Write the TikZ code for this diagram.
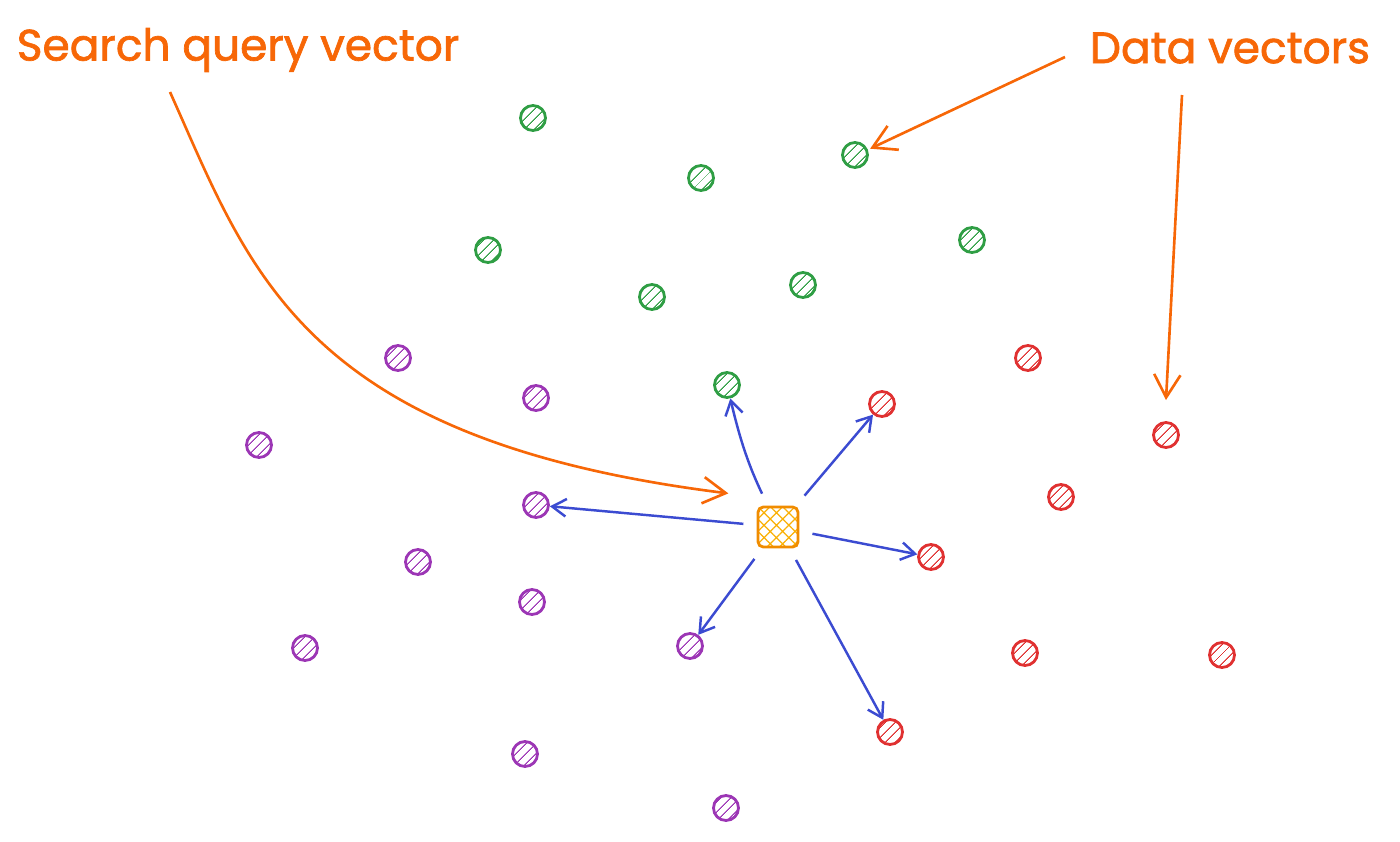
\documentclass[tikz,border=0pt]{standalone}
\usepackage{fontspec}
\setmainfont{Poppins}
\newfontfamily\notefont{Poppins}[FakeBold=1.6]
\usepackage{tikz}
\usetikzlibrary{arrows.meta,patterns.meta,positioning}

\definecolor{ExGreen}{HTML}{2F9E44}
\definecolor{ExPurple}{HTML}{9C36B5}
\definecolor{ExRed}{HTML}{E03131}
\definecolor{ExBlue}{HTML}{3B4BD1}
\definecolor{ExOrange}{HTML}{F76707}
\definecolor{ExAmber}{HTML}{F08C00}
\definecolor{ExYellow}{HTML}{FAB005}

\begin{document}
\begin{tikzpicture}[x=0.02cm,y=-0.02cm]
			\tikzstyle{Dot}		= [circle, line width=1.6pt, minimum size=0.5cm, inner sep=0pt]
			\tikzstyle{Green}	= [Dot, draw=ExGreen, pattern={Lines[angle=45,distance=4pt,line width=0.6pt]}, pattern color=ExGreen]
			\tikzstyle{Purple}	= [Dot, draw=ExPurple, pattern={Lines[angle=45,distance=4pt,line width=0.6pt]}, pattern color=ExPurple]
			\tikzstyle{Red}		= [Dot, draw=ExRed, pattern={Lines[angle=45,distance=4pt,line width=0.6pt]}, pattern color=ExRed]
			\tikzstyle{Query}	= [rectangle, rounded corners=3pt, draw=ExAmber, line width=1.6pt, minimum size=0.8cm, inner sep=0pt, pattern={Hatch[angle=45,distance=5pt,line width=0.7pt]}, pattern color=ExYellow]
			\tikzstyle{Label}	= [text=ExOrange, font=\notefont\fontsize{25}{29}\selectfont, inner sep=0pt]
			\tikzstyle{Note}	= [ExOrange, line width=1.5pt, -{Straight Barb[length=13pt,width=15pt]}]
			\tikzstyle{Near}	= [ExBlue, line width=1.4pt, -{Straight Barb[length=8pt,width=10pt]}, shorten <=8pt]

			\useasboundingbox (0,0) rectangle (1400,842);

			% labels
			\node (lq) at (238,50) [Label] {Search query vector};
			\node (ld) at (1230,48) [Label] {Data vectors};
			\coordinate (lq1) at (170,92);
			\coordinate (ld1) at (1065,57);
			\coordinate (ld2) at (1182,95);

			% green cluster
			\node (g1) at (533,118) [Green] {};
			\node (g2) at (701,178) [Green] {};
			\node (g3) at (855,155) [Green] {};
			\node (g4) at (488,250) [Green] {};
			\node (g5) at (652,297) [Green] {};
			\node (g6) at (803,285) [Green] {};
			\node (g7) at (972,240) [Green] {};
			\node (g8) at (727,385) [Green] {};

			% purple cluster
			\node (p1) at (398,358) [Purple] {};
			\node (p2) at (536,398) [Purple] {};
			\node (p3) at (259,445) [Purple] {};
			\node (p4) at (536,505) [Purple] {};
			\node (p5) at (418,562) [Purple] {};
			\node (p6) at (532,602) [Purple] {};
			\node (p7) at (305,648) [Purple] {};
			\node (p8) at (690,646) [Purple] {};
			\node (p9) at (525,754) [Purple] {};
			\node (p10) at (726,808) [Purple] {};

			% red cluster
			\node (r1) at (1028,358) [Red] {};
			\node (r2) at (882,404) [Red] {};
			\node (r3) at (1166,435) [Red] {};
			\node (r4) at (1061,497) [Red] {};
			\node (r5) at (931,557) [Red] {};
			\node (r6) at (1025,653) [Red] {};
			\node (r7) at (1222,655) [Red] {};
			\node (r8) at (890,732) [Red] {};

			% query
			\node (q) at (778,527) [Query] {};

			% nearest neighbours
			\draw (q) to [bend left=6] (g8) [Near];
			\draw (q) to (r2) [Near];
			\draw (q) to (r5) [Near];
			\draw (q) to (r8) [Near];
			\draw (q) to (p8) [Near];
			\draw (q) to (p4) [Near];

			% label arrows
			\draw (lq1) .. controls (250,270) and (300,440) .. ([xshift=-0.58cm,yshift=0.26cm]q.north west) [Note];
			\draw (ld1) to ([xshift=3pt,yshift=-2pt]g3.north east) [Note];
			\draw (ld2) to ([yshift=12pt]r3.north) [Note];
		\end{tikzpicture}
\end{document}
